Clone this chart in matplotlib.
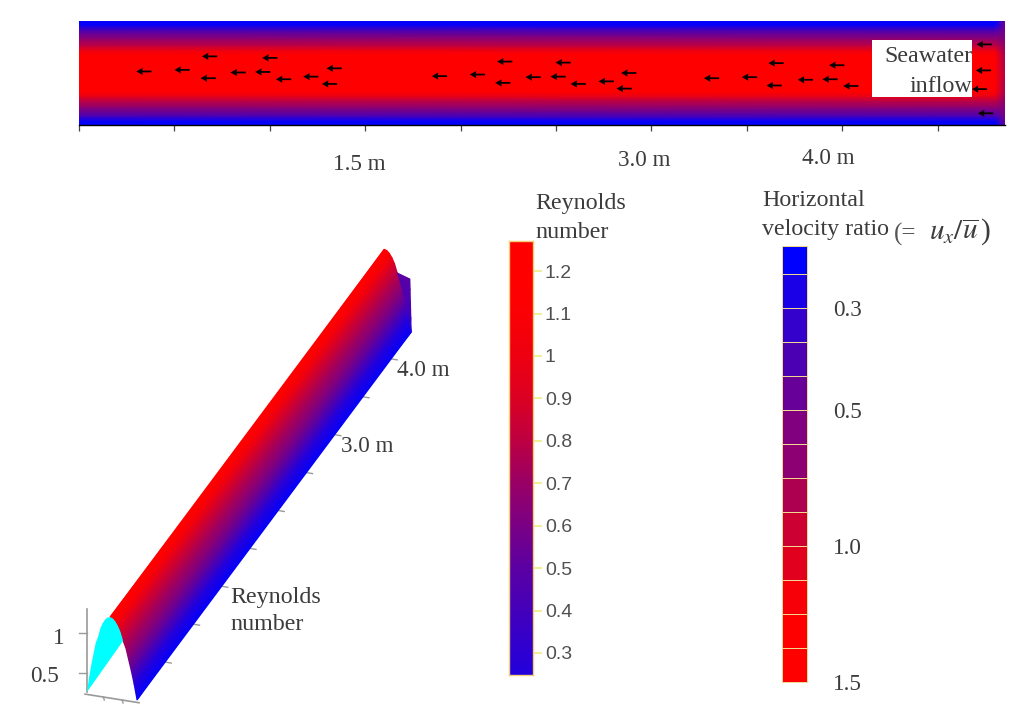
import numpy as np
import matplotlib
matplotlib.use("Agg")
import matplotlib.pyplot as plt
from matplotlib.colors import LinearSegmentedColormap

plt.rcParams['font.family'] = ['Liberation Serif', 'DejaVu Serif']
plt.rcParams['mathtext.fontset'] = 'stix'

# ---------- data ----------
# plan view: speed fraction across the channel (wall -> centre -> wall)
plan_height = [-1, -0.92, -0.83, -0.635, -0.54, -0.44, -0.35, 0, 0.35, 0.44, 0.54, 0.635, 0.83, 0.92, 1]
plan_speed = [0.0, 0.04, 0.28, 0.60, 0.72, 0.92, 1.0, 1.0, 1.0, 0.92, 0.72, 0.60, 0.28, 0.04, 0.0]
inlet_speed = [0.42, 0.44, 0.46, 0.52, 0.56, 0.60, 0.66, 0.72, 0.66, 0.60, 0.56, 0.52, 0.46, 0.44, 0.42]
plan_stations = [0.0, 4.80, 4.853]
distance_ticks = [0, 0.5, 1.0, 1.5, 2.0, 2.5, 3.0, 3.5, 4.0, 4.5]

arrow_x = [0.30, 0.50, 0.644, 0.637, 0.794, 0.923, 0.96, 1.032, 1.175, 1.297, 1.273,
           1.849, 2.048, 2.191, 2.181, 2.34, 2.471, 2.497, 2.576, 2.723, 2.841, 2.817,
           3.275, 3.474, 3.613, 3.603, 3.767, 3.896, 3.931, 4.005,
           4.704, 4.70, 4.679, 4.711]
arrow_y = [0.03, 0.06, 0.32, -0.10, 0.01, 0.02, 0.29, -0.12, -0.07, 0.09, -0.21,
           -0.06, -0.03, 0.22, -0.19, -0.08, -0.07, 0.20, -0.21, -0.16, 0.0, -0.30,
           -0.10, -0.08, 0.19, -0.24, -0.13, -0.12, 0.15, -0.25,
           0.55, 0.05, -0.31, -0.775]
arrow_length = 0.08

# oblique surface: Reynolds number over half of the channel (crest -> wall)
half_width = [0, 0.1, 0.2, 0.3, 0.4, 0.5, 0.6, 0.7, 0.8, 0.9, 1.0]
reynolds = [1.25, 1.24, 1.21, 1.16, 1.09, 0.98, 0.90, 0.76, 0.62, 0.46, 0.27]
surface_colour = [1.0, 1.0, 0.98, 0.93, 0.84, 0.73, 0.63, 0.50, 0.34, 0.15, 0.02]
length_ends = [0.0, 4.853]
outlet_re = [0.93, 0.80, 0.62, 0.45, 0.27]
outlet_colour = [0.36, 0.33, 0.30, 0.24, 0.15]
wall_re = 0.27
length_ticks = [0.5, 1.0, 1.5, 2.0, 2.5, 3.0, 3.5, 4.0, 4.5]

# colour bars
re_ticks = [1.2, 1.1, 1, 0.9, 0.8, 0.7, 0.6, 0.5, 0.4, 0.3]
re_range = (0.248, 1.271)
bar_re = [0.25, 0.3, 0.5, 0.7, 0.8, 0.9, 1.0, 1.1, 1.2]
bar_colour = [0.14, 0.18, 0.36, 0.60, 0.74, 0.86, 0.93, 0.98, 1.0]
band_edges = [0.18, 1, 2, 3, 4, 5, 6, 7, 8, 9, 10, 11, 12, 13]
band_colour = [0.0, 0.1, 0.2, 0.3, 0.4, 0.5, 0.55, 0.68, 0.8, 0.88, 0.97, 1.0, 1.0]
band_tick_pos = [2, 5, 9, 13]
band_tick_labels = ['0.3', '0.5', '1.0', '1.5']

# ---------- set-up ----------
W, H = 1024, 722
fig = plt.figure(figsize=(W / 100, H / 100), dpi=100, facecolor='white')
cmap = LinearSegmentedColormap.from_list('br', ['#0000ff', '#ff0000'])
TXT = '#3c3c3c'
SERIF = 17.3


def px_axes(left, top, right, bottom, **kw):
    return fig.add_axes([left / W, 1 - bottom / H, (right - left) / W, (bottom - top) / H], **kw)


# ---------- plan view ----------
ax = px_axes(79, 21, 1005, 125)
field = np.array([plan_speed, plan_speed, inlet_speed]).T
ax.pcolormesh(plan_stations, plan_height, field, cmap=cmap, vmin=0, vmax=1, shading='gouraud')
ax.quiver(arrow_x, arrow_y, [-arrow_length] * len(arrow_x), [0] * len(arrow_x), pivot='tip',
          angles='xy', scale_units='xy', scale=1, units='dots', width=1.8,
          headwidth=4.0, headlength=3.6, headaxislength=3.4, color='#080000', zorder=3)
ax.set_xlim(0, 4.853)
ax.set_ylim(-1, 1)
ax.set_xticks(distance_ticks)
ax.set_xticklabels([])
ax.set_yticks([])
ax.tick_params(axis='x', length=4.5, width=0.9, color='#444444')
for side in ('top', 'left', 'right'):
    ax.spines[side].set_visible(False)
ax.spines['bottom'].set_linewidth(1.0)

# ---------- oblique view (screen pixels as axes units) ----------
ov = px_axes(0, 0, W, H)
ov.set_xlim(0, W)
ov.set_ylim(H, 0)
ov.axis('off')
ov.patch.set_alpha(0)


def project(length, width, re):
    length, width, re = map(lambda a: np.asarray(a, dtype=float), (length, width, re))
    x = 112 + 56.5 * length + 25 * width - 2 * (re - wall_re)
    y = 696 - 75.8 * length + 4 * width - 80.5 * (re - wall_re)
    return x, y


L_grid, W_grid = np.meshgrid(length_ends, half_width)
Z_grid = np.tile(np.array(reynolds)[:, None], (1, 2))
C_grid = np.tile(np.array(surface_colour)[:, None], (1, 2))
X_s, Y_s = project(L_grid, W_grid, Z_grid)
ov.pcolormesh(X_s, Y_s, C_grid, cmap=cmap, vmin=0, vmax=1, shading='gouraud', zorder=2)

# outlet end piece: between the end of the surface and the raised inlet edge
inner_w = np.array(half_width[5::1])[[0, 1, 3, 4, 5]]
inner_re = np.array(reynolds[5::1])[[0, 1, 3, 4, 5]]
E_L = np.full((5, 2), length_ends[1])
E_W = np.column_stack([inner_w, np.ones(5)])
E_Z = np.column_stack([inner_re, outlet_re])
X_e, Y_e = project(E_L, E_W, E_Z)
E_C = np.column_stack([outlet_colour, outlet_colour])
ov.pcolormesh(X_e, Y_e, E_C, cmap=cmap, vmin=0, vmax=1, shading='gouraud', zorder=2)

# cross-section at the near end
left_w = [-v for v in half_width[::-1]]
left_re = reynolds[::-1]
cx, cy = project(0, np.array(left_w + half_width[1:6]), np.array(left_re + reynolds[1:6]))
ov.fill(cx, cy, color='#00ffff', lw=0, zorder=3)

# grey axes of the oblique view
GREY = '#9a9a9a'
z_x, z_y = project(0, -1, np.array([wall_re, 1.30]))
ov.plot([z_x[0], z_x[0]], z_y, color=GREY, lw=1.2, zorder=1)
for re_t in (0.5, 1.0):
    tx, ty = project(0, -1, re_t)
    ov.plot([z_x[0], z_x[0] - 8], [ty, ty], color=GREY, lw=1.0, zorder=1)
bx, by = project(0, np.array([-1.08, 1.08]), wall_re - 0.03)
ov.plot(bx, by, color=GREY, lw=1.2, zorder=1)
for wt in (-0.35, 0.4):
    tx, ty = project(0, wt, wall_re - 0.03)
    ov.plot([tx, tx + 1], [ty, ty + 3], color=GREY, lw=1.0, zorder=1)
for lt in length_ticks:
    tx, ty = project(lt, 1, wall_re)
    ov.plot([tx, tx + 6], [ty, ty + 1], color=GREY, lw=1.0, zorder=1)

# label box on the plan view
ov.add_patch(plt.Rectangle((872, 40), 100, 57, facecolor='white', edgecolor='none', zorder=4))


def label(x, y, s, **kw):
    kw.setdefault('fontsize', SERIF)
    kw.setdefault('color', TXT)
    kw.setdefault('va', 'center')
    ov.text(x, y + 2, s, zorder=6, **kw)


M = 16.7
label(972, 55, 'Seawater', ha='right')
label(972, 84, 'inflow', ha='right')
label(333, 162, '1.5 m', fontsize=M)
label(618, 158, '3.0 m', fontsize=M)
label(802, 156, '4.0 m', fontsize=M)
label(397, 368, '4.0 m', fontsize=M)
label(341, 444, '3.0 m', fontsize=M)
label(230, 595, 'Reynolds')
label(230, 622, 'number')
label(53, 636, '1', fontsize=M)
label(30, 675, '0.5', fontsize=M)
label(535, 202, 'Reynolds')
label(535, 230, 'number')
label(762, 199, 'Horizontal')
label(762, 227, 'velocity ratio')
label(894, 232, '(=', fontsize=18, color='#555555')
label(929, 230, r'$u_x/\overline{u}\,$)', fontsize=21)

# ---------- Reynolds colour bar ----------
EDGE = '#f3cf7a'
cb = px_axes(509, 241, 533, 675)
ramp = np.interp(np.linspace(re_range[1], re_range[0], 256), bar_re, bar_colour)[:, None]
cb.imshow(ramp, aspect='auto', cmap=cmap, vmin=0, vmax=1, extent=[0, 1, re_range[0], re_range[1]])
cb.set_xticks([])
cb.yaxis.tick_right()
cb.set_yticks(re_ticks)
cb.set_yticklabels([str(t) for t in re_ticks], family='Liberation Sans', fontsize=14, color='#505050')
cb.tick_params(axis='y', length=6.5, width=1.5, color='#f2ee98', pad=2)
for s in cb.spines.values():
    s.set_color(EDGE)
    s.set_linewidth(1.0)

# ---------- velocity ratio colour bar ----------
LINE = '#f0d890'
vb = px_axes(782, 246, 807, 682)
vb.pcolormesh([0, 1], band_edges, np.array(band_colour)[:, None], cmap=cmap, vmin=0, vmax=1,
              edgecolors=LINE, linewidth=0.7)
vb.set_ylim(13, 0.18)
vb.set_xlim(0, 1)
vb.set_xticks([])
vb.yaxis.tick_right()
vb.set_yticks(band_tick_pos)
vb.set_yticklabels(band_tick_labels, fontsize=M, color=TXT)
vb.tick_params(axis='y', length=0, pad=19)
for s in vb.spines.values():
    s.set_color(LINE)
    s.set_linewidth(0.7)

fig.savefig('out.png', dpi=100)
